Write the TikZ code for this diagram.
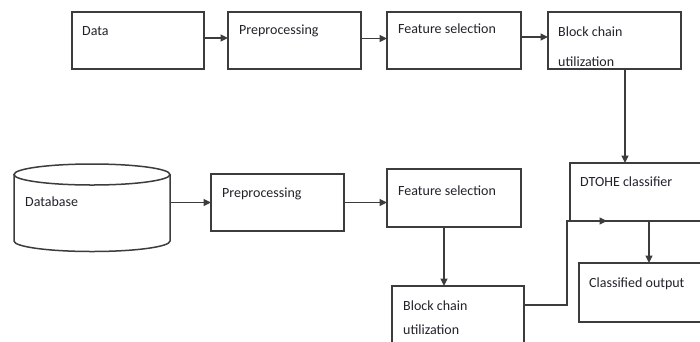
\documentclass[tikz,border=0pt]{standalone}
\usepackage{fontspec}
\setmainfont{Carlito}
\usetikzlibrary{arrows.meta}
\definecolor{linegray}{RGB}{60,60,60}
\definecolor{txtgray}{RGB}{34,34,44}
\begin{document}
\begin{tikzpicture}[x=1pt,y=-1pt,
  box/.style={draw=linegray, line width=1.5pt, inner sep=0pt, outer sep=0pt, anchor=north west},
  lbl/.style={anchor=base west, inner sep=0pt, text=txtgray, font=\fontsize{14pt}{16pt}\selectfont},
  arr/.style={draw=linegray, line width=1.5pt, -{Triangle[length=7.5pt,width=7pt]}},
  wire/.style={draw=linegray, line width=1.5pt}]
\useasboundingbox (0,0) rectangle (700,341);
\fill[white] (0,0) rectangle (700,341);
\clip (0,0) rectangle (700,341);

% upper chain
\node[box, minimum width=132pt, minimum height=57pt] (data) at (72,12) {};
\node[box, minimum width=133pt, minimum height=57pt] (pre1) at (228,12) {};
\node[box, minimum width=134pt, minimum height=57pt] (fs1)  at (387,12) {};
\node[box, minimum width=133pt, minimum height=57pt] (bc1)  at (548,12) {};

\node[lbl] (tdata) at (82,35)  {Data};
\node[lbl] (tpre1) at (239,34) {Preprocessing};
\node[lbl] (tfs1)  at (398,33) {Feature selection};
\node[lbl] (tbc1a) at (558,36) {Block chain};
\node[lbl] (tbc1b) at (558,66) {utilization};

% database cylinder
\node[inner sep=0pt, outer sep=0pt, minimum width=156pt, minimum height=87pt, anchor=north west] (db) at (14,164) {};
\draw[wire] (92,174.5) ellipse [x radius=78, y radius=10.5];
\draw[wire] (14,174.5) -- (14,241) arc[start angle=180, end angle=0, x radius=78, y radius=10.5] -- (170,174.5);
\node[lbl] (tdb) at (25,206) {Database};

% lower chain
\node[box, minimum width=133pt, minimum height=57pt] (pre2) at (211,174) {};
\node[box, minimum width=134pt, minimum height=58pt] (fs2)  at (387,169) {};
\node[box, minimum width=132pt, minimum height=74pt] (bc2)  at (392,286) {};
\node[box, minimum width=150pt, minimum height=58pt] (dtohe) at (570,163) {};
\node[box, minimum width=141pt, minimum height=59pt] (out) at (579,263) {};

\node[lbl] (tpre2)  at (222,197) {Preprocessing};
\node[lbl] (tfs2)   at (398,195) {Feature selection};
\node[lbl] (tbc2a)  at (403,310) {Block chain};
\node[lbl] (tbc2b)  at (403,334) {utilization};
\node[lbl] (tdtohe) at (580,186) {DTOHE classifier};
\node[lbl] (tout)   at (589,287) {Classified output};

% connectors
\draw[arr] ([yshift=2.5pt]data.east) -- ([yshift=2.5pt]data.east -| pre1.west);
\draw[arr] ([yshift=2pt]pre1.east) -- ([yshift=2pt]pre1.east -| fs1.west);
\draw[arr] ([yshift=3.5pt]fs1.east) -- ([yshift=3.5pt]fs1.east -| bc1.west);
\draw[arr] ([xshift=10.5pt]bc1.south) -- ([xshift=10.5pt]bc1.south |- dtohe.north);
\draw[arr] (pre2.west -| db.east) -- (pre2.west);
\draw[arr] (pre2.east) -- (pre2.east -| fs2.west);
\draw[arr] ([xshift=-10pt]fs2.south) -- ([xshift=-10pt]fs2.south |- bc2.north);
\coordinate (entry) at ([xshift=37pt]dtohe.south west);
\draw[arr] ([yshift=-19pt]bc2.north east) -| ([xshift=-3pt]dtohe.south west) -- (entry);
\draw[arr] ([xshift=79pt]dtohe.south west) -- ([xshift=79pt]dtohe.south west |- out.north);
\end{tikzpicture}
\end{document}
